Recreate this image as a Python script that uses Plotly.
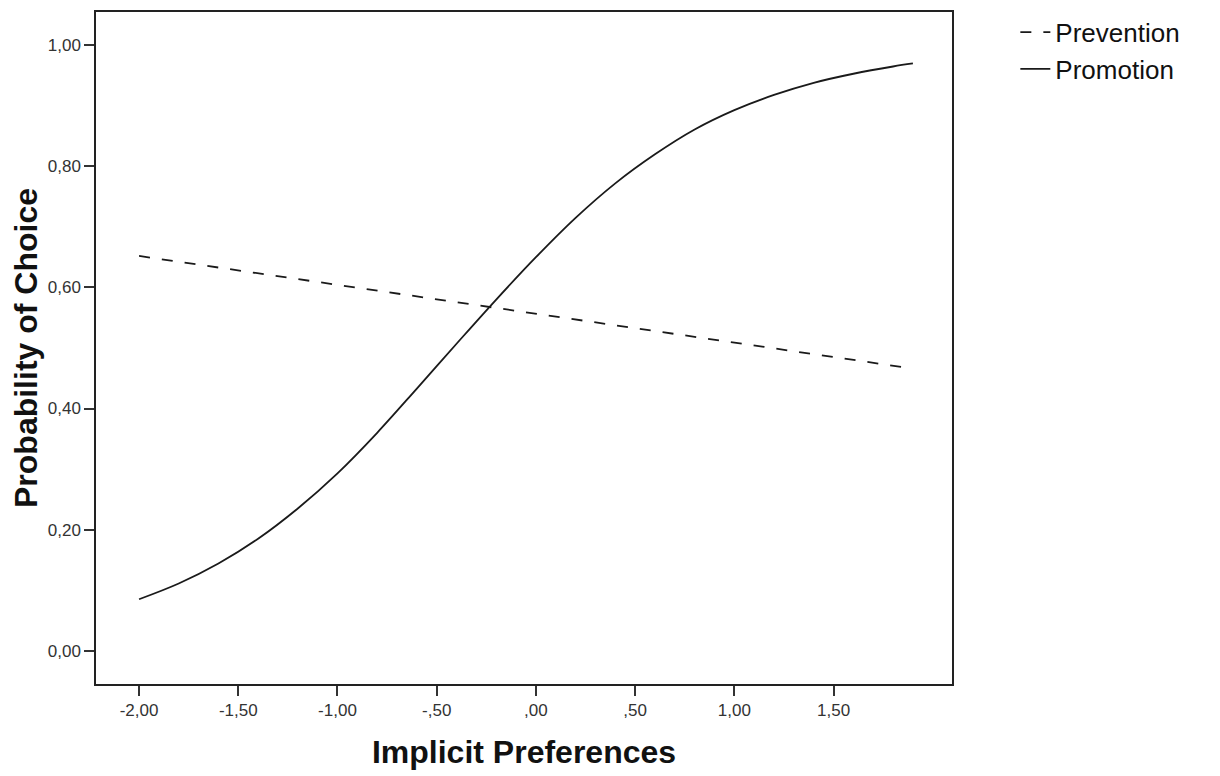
import plotly.graph_objects as go

# Data
promo_x = [-2.0, -1.8, -1.6, -1.4, -1.2, -1.0, -0.8, -0.6, -0.4, -0.2, 0.0,
           0.2, 0.4, 0.6, 0.8, 1.0, 1.2, 1.4, 1.6, 1.8, 1.9]
promo_y = [0.085, 0.111, 0.144, 0.185, 0.235, 0.293, 0.360, 0.433, 0.507, 0.580, 0.650,
           0.715, 0.772, 0.820, 0.861, 0.893, 0.918, 0.938, 0.953, 0.965, 0.970]

prev_x = [-2.0, 1.9]
prev_y = [0.652, 0.466]

x_ticks = [-2.0, -1.5, -1.0, -0.5, 0.0, 0.5, 1.0, 1.5]
x_ticklabels = ["-2,00", "-1,50", "-1,00", "-,50", ",00", ",50", "1,00", "1,50"]
y_ticks = [0.0, 0.2, 0.4, 0.6, 0.8, 1.0]
y_ticklabels = ["0,00", "0,20", "0,40", "0,60", "0,80", "1,00"]

FONT = "Liberation Sans, Arial, sans-serif"

fig = go.Figure()
fig.add_trace(go.Scatter(
    x=prev_x, y=prev_y, mode="lines", name="Prevention",
    line=dict(color="#1a1a1a", width=1.8, dash="11px,12px"),
))
fig.add_trace(go.Scatter(
    x=promo_x, y=promo_y, mode="lines", name="Promotion",
    line=dict(color="#1a1a1a", width=1.8, shape="spline"),
))

fig.update_layout(
    width=1212, height=768,
    margin=dict(l=88, r=268, t=1, b=92),
    paper_bgcolor="white", plot_bgcolor="white",
    font=dict(family=FONT, color="#222"),
    showlegend=True,
    legend=dict(
        x=1.074, y=1.005, xanchor="left", yanchor="top",
        font=dict(family=FONT, size=26, color="#111"),
        bgcolor="rgba(0,0,0,0)", itemwidth=30, tracegroupgap=0,
    ),
    xaxis=dict(
        range=[-2.217, 2.097], tickmode="array", tickvals=x_ticks, ticktext=x_ticklabels,
        showgrid=False, zeroline=False, showline=True, linecolor="#222", linewidth=1.5,
        mirror=True, ticks="outside", ticklen=10, tickwidth=2, tickcolor="#333",
        tickfont=dict(family=FONT, size=17, color="#333"),
        title=dict(text="<b>Implicit Preferences</b>", font=dict(family=FONT, size=32, color="#111"),
                   standoff=21),
    ),
    yaxis=dict(
        range=[-0.055, 1.055], tickmode="array", tickvals=y_ticks, ticktext=y_ticklabels,
        showgrid=False, zeroline=False, showline=True, linecolor="#222", linewidth=1.5,
        mirror=True, ticks="outside", ticklen=10, tickwidth=2, tickcolor="#333",
        tickfont=dict(family=FONT, size=17, color="#333"),
        title=dict(text="<b>Probability of Choice</b>", font=dict(family=FONT, size=32, color="#111"),
                   standoff=2),
    ),
)

fig.write_html("out.html")
